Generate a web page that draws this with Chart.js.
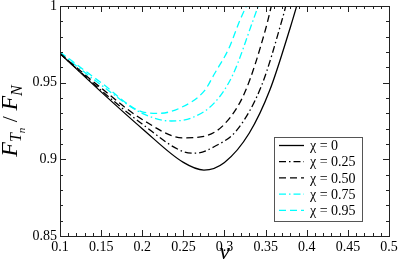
<!DOCTYPE html>
<html lang="en">
<head>
    <meta charset="UTF-8">
    <title>F_Tn / F_N vs v</title>
    <script src="https://cdn.jsdelivr.net/npm/chart.js"></script>
    <style>
        body { margin: 0; background: #fff; }
    </style>
</head>
<body>

<canvas id="myChart" width="399" height="263"></canvas>

<script>
// valores (v, F_Tn/F_N) para cada chi
const labels = ['\u03c7 = 0', '\u03c7 = 0.25', '\u03c7 = 0.50', '\u03c7 = 0.75', '\u03c7 = 0.95'];

const v0   = [0.1, 0.15, 0.2, 0.25, 0.275, 0.3, 0.33, 0.355, 0.38, 0.39];
const f0   = [0.969, 0.944, 0.920, 0.898, 0.893, 0.898, 0.917, 0.945, 0.986, 1.004];

const v25  = [0.1, 0.15, 0.2, 0.25, 0.265, 0.29, 0.315, 0.345, 0.37, 0.376];
const f25  = [0.969, 0.945, 0.923, 0.905, 0.904, 0.909, 0.919, 0.948, 0.991, 1.003];

const v50  = [0.1, 0.15, 0.2, 0.25, 0.275, 0.3, 0.325, 0.35, 0.36];
const f50  = [0.969, 0.9465, 0.926, 0.914, 0.915, 0.923, 0.944, 0.985, 1.007];

const v75  = [0.1, 0.15, 0.2, 0.235, 0.26, 0.288, 0.31, 0.335, 0.343];
const f75  = [0.9695, 0.9485, 0.930, 0.925, 0.927, 0.937, 0.955, 0.991, 1.003];

const v95  = [0.1, 0.15, 0.2, 0.22, 0.246, 0.276, 0.288, 0.305, 0.319, 0.33];
const f95  = [0.970, 0.950, 0.931, 0.930, 0.9335, 0.945, 0.956, 0.972, 0.991, 1.004];

const xTicks = [0.1, 0.15, 0.2, 0.25, 0.3, 0.35, 0.4, 0.45, 0.5];
const yTicks = [0.85, 0.9, 0.95, 1];

const serif = "'Liberation Serif', 'DejaVu Serif', serif";

function pts(xs, ys) {
    return xs.map((x, i) => ({ x: x, y: ys[i] }));
}

const styles = [
    { color: '#000000', dash: [] },
    { color: '#000000', dash: [7, 3, 1.5, 3] },
    { color: '#000000', dash: [7, 4] },
    { color: '#00ffff', dash: [7, 3, 1.5, 3] },
    { color: '#00ffff', dash: [7, 4] }
];

const series = [pts(v0, f0), pts(v25, f25), pts(v50, f50), pts(v75, f75), pts(v95, f95)];

// ticks para dentro nos quatro lados + moldura
const frameTicks = {
    id: 'frameTicks',
    afterDatasetsDraw(chart) {
        const { ctx, chartArea: a, scales: { x, y } } = chart;
        ctx.save();
        ctx.strokeStyle = '#222';
        ctx.lineWidth = 1;
        ctx.beginPath();
        for (let i = 10; i <= 50; i++) {
            const px = Math.round(x.getPixelForValue(i / 100)) + 0.5;
            const len = i % 5 === 0 ? 6 : 3;
            ctx.moveTo(px, a.bottom); ctx.lineTo(px, a.bottom - len);
            ctx.moveTo(px, a.top); ctx.lineTo(px, a.top + len);
        }
        for (let i = 85; i <= 100; i++) {
            const py = Math.round(y.getPixelForValue(i / 100)) + 0.5;
            const len = i % 5 === 0 ? 6 : 3;
            ctx.moveTo(a.left, py); ctx.lineTo(a.left + len, py);
            ctx.moveTo(a.right, py); ctx.lineTo(a.right - len, py);
        }
        ctx.stroke();
        ctx.strokeRect(Math.round(a.left) + 0.5, Math.round(a.top) + 0.5,
            Math.round(a.right - a.left), Math.round(a.bottom - a.top));
        ctx.restore();
    }
};

// legenda dentro do grafico
const boxLegend = {
    id: 'boxLegend',
    afterDatasetsDraw(chart) {
        const { ctx } = chart;
        const bx = 274.5, by = 137.5, bw = 88, bh = 84;
        ctx.save();
        ctx.fillStyle = '#fff';
        ctx.fillRect(bx, by, bw, bh);
        ctx.strokeStyle = '#555';
        ctx.lineWidth = 1;
        ctx.strokeRect(bx, by, bw, bh);
        ctx.font = '14px ' + serif;
        ctx.textBaseline = 'middle';
        chart.data.datasets.forEach((ds, i) => {
            const ly = 145.5 + i * 16.2;
            ctx.strokeStyle = ds.borderColor;
            ctx.lineWidth = 1.3;
            ctx.setLineDash(ds.borderDash);
            ctx.beginPath();
            ctx.moveTo(279, ly); ctx.lineTo(304, ly);
            ctx.stroke();
            ctx.setLineDash([]);
            ctx.fillStyle = '#000';
            ctx.fillText(ds.label, 310, ly + 1);
        });
        ctx.restore();
    }
};

// titulos dos eixos (com subscritos)
const axisTitles = {
    id: 'axisTitles',
    afterDraw(chart) {
        const { ctx, chartArea: a } = chart;
        ctx.save();
        ctx.fillStyle = '#000';
        ctx.textBaseline = 'alphabetic';
        ctx.textAlign = 'center';
        ctx.font = 'italic 24px ' + serif;
        ctx.fillText('v', (a.left + a.right) / 2, 259);

        const parts = [
            { t: 'F', f: 'italic 24px', dy: 0 },
            { t: 'T', f: 'italic 16px', dy: 4 },
            { t: 'n', f: 'italic 11px', dy: 8 },
            { t: ' / ', f: '22px', dy: 0 },
            { t: 'F', f: 'italic 24px', dy: 0 },
            { t: 'N', f: 'italic 16px', dy: 5 }
        ];
        ctx.textAlign = 'left';
        let total = 0;
        parts.forEach(p => { ctx.font = p.f + ' ' + serif; p.w = ctx.measureText(p.t).width; total += p.w; });
        ctx.translate(17, (a.top + a.bottom) / 2);
        ctx.rotate(-Math.PI / 2);
        let cx = -total / 2;
        parts.forEach(p => {
            ctx.font = p.f + ' ' + serif;
            ctx.fillText(p.t, cx, p.dy);
            cx += p.w;
        });
        ctx.restore();
    }
};

const ctx = document.getElementById('myChart').getContext('2d');
const myChart = new Chart(ctx, {
    type: 'line',
    data: {
        datasets: series.map((d, i) => ({
            label: labels[i],
            data: d,
            borderColor: styles[i].color,
            borderDash: styles[i].dash,
            borderWidth: 1.3,
            pointRadius: 0,
            fill: false,
            cubicInterpolationMode: 'monotone'
        }))
    },
    options: {
        responsive: false,
        animation: false,
        devicePixelRatio: 1,
        layout: { padding: { top: 6, right: 10, left: 0, bottom: 0 } },
        plugins: {
            legend: { display: false },
            tooltip: { enabled: false }
        },
        scales: {
            x: {
                type: 'linear',
                min: 0.1,
                max: 0.5,
                grid: { display: false, drawTicks: false },
                border: { display: false },
                afterBuildTicks: s => { s.ticks = xTicks.map(v => ({ value: v })); },
                ticks: {
                    padding: 3,
                    color: '#000',
                    font: { family: serif, size: 14 },
                    maxRotation: 0,
                    autoSkip: false,
                    callback: v => String(+v.toFixed(2))
                },
                afterFit: s => { s.height = 27; s.paddingLeft = 0; s.paddingRight = 0; }
            },
            y: {
                min: 0.85,
                max: 1,
                grid: { display: false, drawTicks: false },
                border: { display: false },
                afterBuildTicks: s => { s.ticks = yTicks.map(v => ({ value: v })); },
                ticks: {
                    padding: 3,
                    color: '#000',
                    font: { family: serif, size: 14 },
                    callback: v => String(+v.toFixed(2))
                },
                afterFit: s => { s.width = 60; s.paddingTop = 0; s.paddingBottom = 0; }
            }
        }
    },
    plugins: [frameTicks, boxLegend, axisTitles]
});
</script>

</body>
</html>
